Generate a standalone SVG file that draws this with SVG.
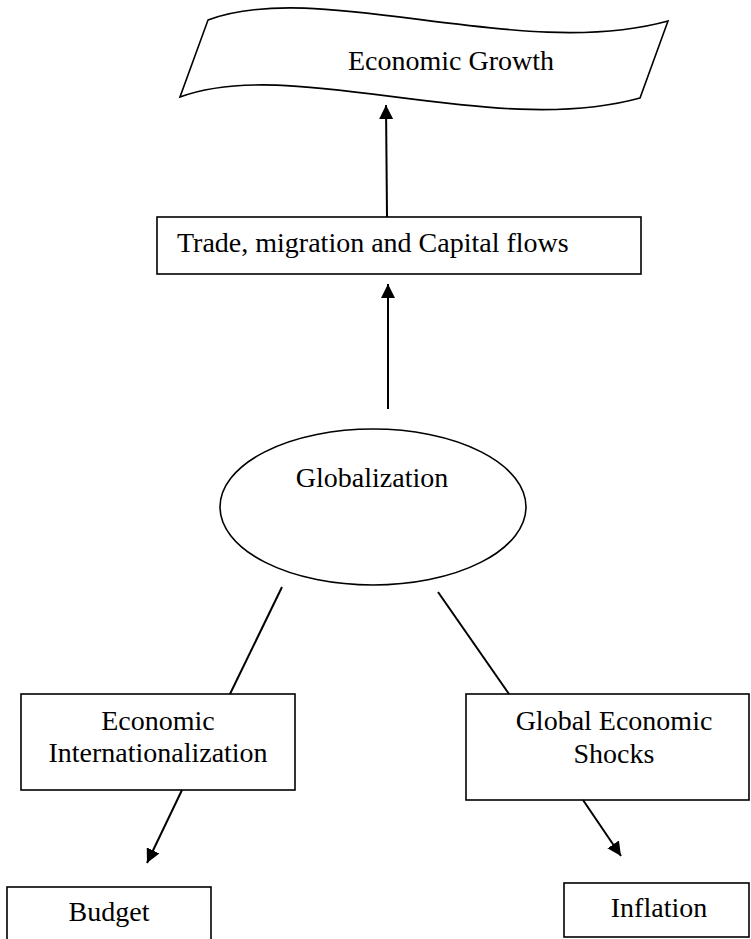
<svg xmlns="http://www.w3.org/2000/svg" width="751" height="939" viewBox="0 0 751 939">
<style>
.box{fill:#fff;stroke:#000;stroke-width:1.6}
.t{font-family:"Liberation Serif","Times New Roman",serif;font-size:28px;fill:#000}
.c{text-anchor:middle}
.ln{stroke:#000;stroke-width:2;fill:none}
</style>
<defs>
<marker id="ah" markerUnits="userSpaceOnUse" markerWidth="14" markerHeight="14" viewBox="0 0 14 14" refX="14" refY="7" orient="auto">
<path d="M0,0 L14,7 L0,14 Z" fill="#000"/>
</marker>
</defs>
<rect width="751" height="939" fill="#fff"/>
<g id="economic-growth">
<path class="box" d="M208,20 C320,-22 520,62 668,21 L640,98 C492,139 292,55 180,97 Z"/>
<text class="t c" x="451" y="70">Economic Growth</text>
</g>
<g id="trade">
<rect class="box" x="157" y="217" width="484" height="57"/>
<text class="t" x="177" y="252">Trade, migration and Capital flows</text>
</g>
<g id="globalization">
<ellipse class="box" cx="373" cy="507" rx="153" ry="78"/>
<text class="t c" x="372" y="487">Globalization</text>
</g>
<g id="econ-intl">
<rect class="box" x="21" y="694" width="274" height="96"/>
<text class="t c" x="158" y="730">Economic</text>
<text class="t c" x="158" y="762">Internationalization</text>
</g>
<g id="shocks">
<rect class="box" x="466" y="694" width="283" height="106"/>
<text class="t c" x="614" y="730">Global Economic</text>
<text class="t c" x="614" y="763">Shocks</text>
</g>
<g id="budget">
<rect class="box" x="7" y="887" width="204" height="60"/>
<text class="t c" x="109" y="921">Budget</text>
</g>
<g id="inflation">
<rect class="box" x="564" y="883" width="185" height="54"/>
<text class="t c" x="659" y="917">Inflation</text>
</g>
<g id="connectors">
<line class="ln" x1="387" y1="217" x2="386" y2="105" marker-end="url(#ah)"/>
<line class="ln" x1="388" y1="409" x2="388" y2="284" marker-end="url(#ah)"/>
<line class="ln" x1="282" y1="587" x2="230" y2="694"/>
<line class="ln" x1="438" y1="592" x2="509" y2="694"/>
<line class="ln" x1="182" y1="790" x2="147" y2="863" marker-end="url(#ah)"/>
<line class="ln" x1="583" y1="800" x2="621" y2="856" marker-end="url(#ah)"/>
</g>
</svg>
